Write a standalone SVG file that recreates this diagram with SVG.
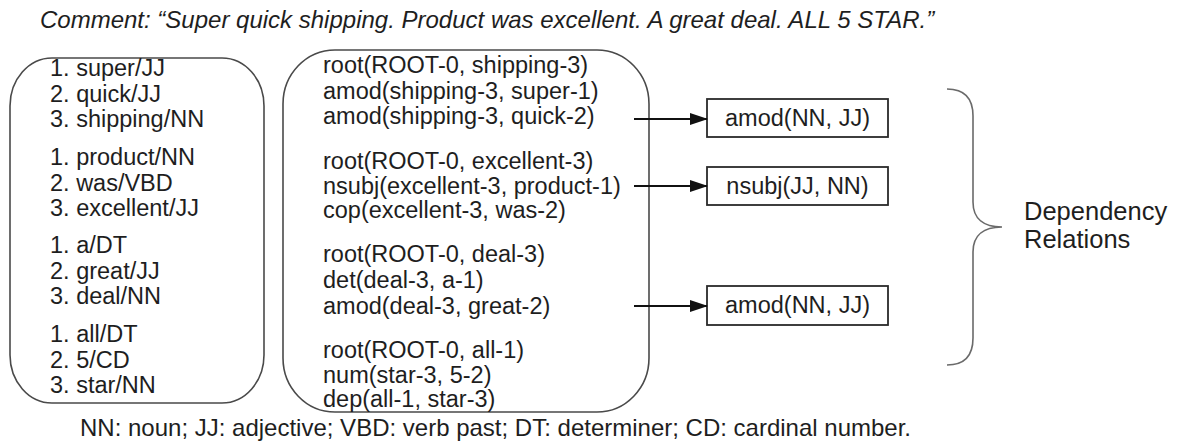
<svg xmlns="http://www.w3.org/2000/svg" width="1184" height="441" viewBox="0 0 1184 441">
<defs>
<style>
text{font-family:"Liberation Sans",Arial,sans-serif;fill:#1e1e1e;font-size:23.5px}
.it{font-style:italic;font-size:24px}
.ft{font-size:24px}
.big{font-size:25.5px}
.rbox{fill:none;stroke:#4a4a4a;stroke-width:1.6}
.box{fill:#fff;stroke:#2a2a2a;stroke-width:1.8}
.arrow{stroke:#111;stroke-width:2;fill:none;marker-end:url(#ah)}
.brace{fill:none;stroke:#6a6a6a;stroke-width:1.6}
.mid{text-anchor:middle}
</style>
<marker id="ah" markerWidth="18" markerHeight="12" refX="17" refY="6" orient="auto" markerUnits="userSpaceOnUse">
<path d="M0,0 L18,6 L0,12 Z" fill="#111"/>
</marker>
</defs>
<rect width="1184" height="441" fill="#fff"/>
<text class="it" x="40" y="28">Comment: “Super quick shipping. Product was excellent. A great deal. ALL 5 STAR.”</text>

<g id="tokens">
<rect class="rbox" x="10" y="58" width="254" height="345" rx="42" ry="48"/>
<text x="50" y="76">1. super/JJ</text>
<text x="50" y="101.5">2. quick/JJ</text>
<text x="50" y="127">3. shipping/NN</text>
<text x="50" y="165">1. product/NN</text>
<text x="50" y="190.5">2. was/VBD</text>
<text x="50" y="216">3. excellent/JJ</text>
<text x="50" y="253">1. a/DT</text>
<text x="50" y="278.5">2. great/JJ</text>
<text x="50" y="304">3. deal/NN</text>
<text x="50" y="342">1. all/DT</text>
<text x="50" y="367.5">2. 5/CD</text>
<text x="50" y="393">3. star/NN</text>
</g>

<g id="parses">
<rect class="rbox" x="283" y="50" width="366" height="362" rx="52" ry="54"/>
<text x="323" y="73">root(ROOT-0, shipping-3)</text>
<text x="323" y="98.5">amod(shipping-3, super-1)</text>
<text x="323" y="124">amod(shipping-3, quick-2)</text>
<text x="323" y="169">root(ROOT-0, excellent-3)</text>
<text x="323" y="194">nsubj(excellent-3, product-1)</text>
<text x="323" y="218">cop(excellent-3, was-2)</text>
<text x="323" y="262">root(ROOT-0, deal-3)</text>
<text x="323" y="288">det(deal-3, a-1)</text>
<text x="323" y="314">amod(deal-3, great-2)</text>
<text x="323" y="358">root(ROOT-0, all-1)</text>
<text x="323" y="383">num(star-3, 5-2)</text>
<text x="323" y="407">dep(all-1, star-3)</text>
</g>

<g id="rel1">
<rect class="box" x="707" y="99" width="181" height="38"/>
<text class="mid" x="797.5" y="126">amod(NN, JJ)</text>
</g>
<g id="rel2">
<rect class="box" x="707" y="167" width="181" height="38"/>
<text class="mid" x="797.5" y="194">nsubj(JJ, NN)</text>
</g>
<g id="rel3">
<rect class="box" x="707" y="286" width="181" height="39"/>
<text class="mid" x="797.5" y="313">amod(NN, JJ)</text>
</g>

<g id="connectors">
<line class="arrow" x1="634" y1="119" x2="707" y2="119"/>
<line class="arrow" x1="634" y1="186" x2="707" y2="186"/>
<line class="arrow" x1="634" y1="306" x2="707" y2="306"/>
</g>

<g id="brace">
<path class="brace" d="M947 89 C965 89 973 99 973 116 L973 202 C973 219 984 227 1002 227 C984 227 973 235 973 252 L973 338 C973 355 965 365 947 365"/>
<text class="big" x="1024" y="220">Dependency</text>
<text class="big" x="1024" y="248">Relations</text>
</g>

<text class="ft" x="80" y="436">NN: noun; JJ: adjective; VBD: verb past; DT: determiner; CD: cardinal number.</text>
</svg>
